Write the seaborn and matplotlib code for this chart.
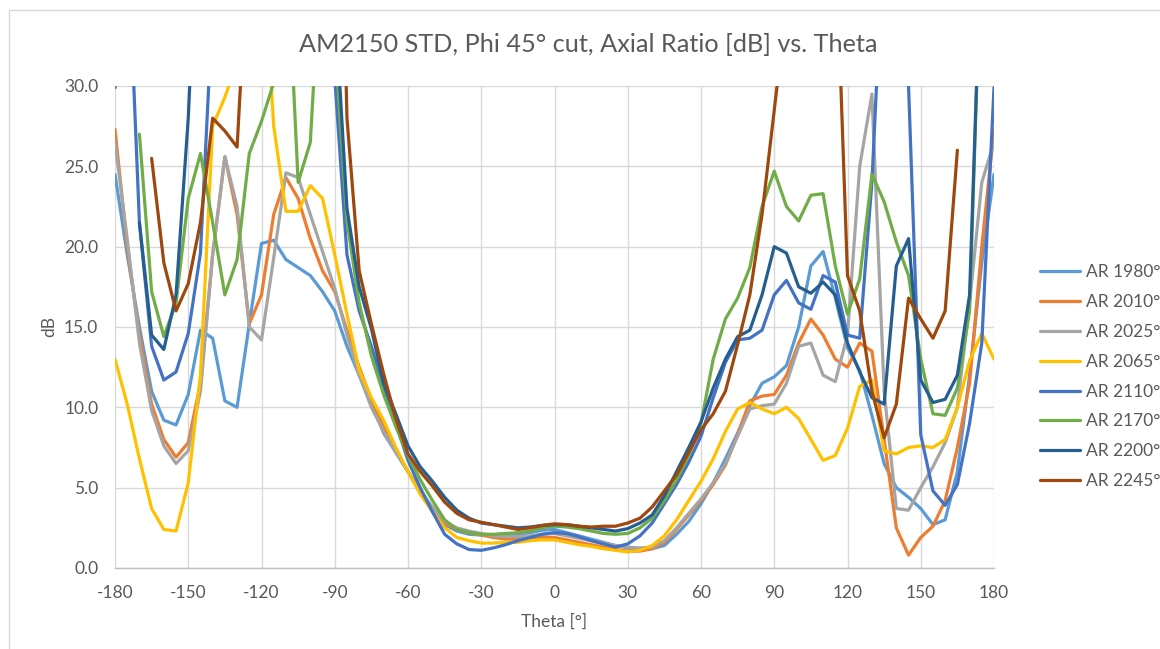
import numpy as np
import pandas as pd
import matplotlib
matplotlib.use("Agg")
import matplotlib.pyplot as plt
import seaborn as sns

nan = np.nan

# Theta samples (deg), 5 degree steps
theta = list(range(-180, 181, 5))

# Axial ratio [dB] per frequency (values > 30 run off the top)
ar_1980 = [24.5, 19.5, 15.0, 11.0, 9.2, 8.9, 10.8, 14.8, 14.3, 10.4, 10.0, 15.2, 20.2,
           20.4, 19.2, 18.7, 18.2, 17.2, 16.0, 13.8, 12.0, 10.3, 8.4, 7.2, 6.0, 4.8,
           3.6, 2.7, 2.3, 2.1, 2.05, 2.0, 2.0, 2.1, 2.2, 2.35, 2.4, 2.2, 2.0, 1.8, 1.6,
           1.4, 1.25, 1.15, 1.2, 1.4, 2.1, 2.9, 4.0, 5.3, 6.8, 8.4, 10.1, 11.5, 11.9,
           12.6, 15.0, 18.8, 19.7, 16.8, 13.7, 12.3, 9.5, 6.5, 5.0, 4.4, 3.7, 2.7, 3.0,
           6.0, 12.0, 19.0, 24.5]
ar_2010 = [27.3, 20.0, 14.5, 10.2, 8.0, 6.9, 7.8, 11.5, 19.5, 25.6, 22.0, 15.2, 17.0,
           22.0, 24.3, 23.0, 20.5, 18.5, 17.2, 14.8, 12.5, 10.5, 8.8, 7.3, 6.0, 4.7,
           3.7, 2.8, 2.4, 2.2, 2.05, 1.9, 1.8, 1.8, 1.85, 1.9, 1.9, 1.75, 1.6, 1.45,
           1.3, 1.15, 1.05, 1.05, 1.2, 1.6, 2.4, 3.3, 4.2, 5.2, 6.4, 8.3, 10.4, 10.7,
           10.8, 12.0, 14.0, 15.5, 14.5, 13.0, 12.5, 14.0, 13.5, 8.0, 2.5, 0.8, 1.9,
           2.6, 4.2, 7.5, 11.5, 20.0, 27.3]
ar_2025 = [26.5, 20.5, 14.0, 9.8, 7.6, 6.5, 7.3, 11.0, 19.5, 25.6, 22.5, 15.0, 14.2,
           19.3, 24.6, 24.3, 22.0, 19.7, 17.4, 14.5, 12.0, 10.0, 8.5, 7.2, 6.0, 4.8,
           3.8, 2.9, 2.5, 2.3, 2.15, 2.0, 1.95, 1.95, 2.0, 2.1, 2.15, 2.0, 1.85, 1.7,
           1.55, 1.4, 1.3, 1.25, 1.3, 1.7, 2.5, 3.4, 4.3, 5.3, 6.5, 8.2, 9.9, 10.1,
           10.2, 11.5, 13.8, 14.0, 12.0, 11.6, 14.5, 25.0, 29.5, 11.0, 3.7, 3.6, 5.0,
           6.3, 7.8, 10.0, 16.5, 24.0, 26.5]
ar_2065 = [13.0, 10.2, 6.8, 3.7, 2.4, 2.3, 5.3, 12.0, 27.5, 29.3, 31.5, 40.0, 40.0,
           27.5, 22.2, 22.2, 23.8, 23.0, 19.5, 15.8, 12.3, 10.6, 9.2, 7.5, 6.0, 4.6,
           3.5, 2.5, 1.9, 1.7, 1.55, 1.55, 1.6, 1.6, 1.7, 1.75, 1.75, 1.6, 1.45, 1.35,
           1.2, 1.1, 1.0, 1.1, 1.4, 2.0, 3.0, 4.2, 5.4, 6.8, 8.5, 9.9, 10.3, 9.9, 9.6,
           10.0, 9.3, 8.0, 6.7, 7.0, 8.7, 11.3, 11.7, 7.3, 7.1, 7.5, 7.6, 7.5, 8.0,
           10.0, 12.9, 14.6, 13.0]
ar_2110 = [29.9, 40.0, 21.5, 13.8, 11.7, 12.2, 14.6, 19.6, 35.0, 50.0, 50.0, 50.0,
           50.0, 50.0, 50.0, 50.0, 50.0, 50.0, 30.5, 19.5, 16.0, 13.8, 11.3, 9.0, 6.7,
           5.0, 3.5, 2.1, 1.5, 1.15, 1.1, 1.25, 1.45, 1.7, 1.9, 2.1, 2.2, 2.15, 1.95,
           1.7, 1.5, 1.3, 1.5, 2.0, 2.8, 4.0, 5.2, 6.6, 8.2, 10.6, 12.8, 14.2, 14.3,
           14.8, 17.0, 17.9, 16.5, 16.1, 18.2, 17.8, 14.5, 14.3, 24.0, 40.0, 45.0,
           30.0, 8.3, 4.8, 3.9, 5.2, 9.0, 14.0, 29.9]
ar_2170 = [nan, nan, 27.0, 17.2, 14.4, 16.5, 23.0, 25.8, 21.5, 17.0, 19.2, 25.8, 27.8,
           30.2, 40.0, 24.0, 26.5, 40.0, 33.0, 21.6, 16.5, 13.2, 10.8, 8.8, 7.0, 5.5,
           4.2, 3.0, 2.4, 2.2, 2.1, 2.1, 2.15, 2.2, 2.3, 2.5, 2.6, 2.55, 2.45, 2.3,
           2.15, 2.1, 2.15, 2.5, 3.1, 4.2, 5.5, 7.0, 9.0, 13.0, 15.5, 16.8, 18.7, 22.5,
           24.7, 22.5, 21.6, 23.2, 23.3, 18.8, 15.8, 18.0, 24.5, 22.8, 20.3, 18.2,
           13.0, 9.6, 9.5, 11.2, 16.0, 40.0, nan]
ar_2200 = [nan, nan, 21.5, 14.5, 13.6, 17.0, 28.0, 45.0, 45.0, 45.0, 45.0, 45.0, 45.0,
           45.0, 45.0, 45.0, 45.0, 45.0, 35.5, 22.4, 17.5, 14.9, 11.5, 9.6, 7.6, 6.3,
           5.4, 4.4, 3.6, 3.1, 2.8, 2.7, 2.6, 2.5, 2.55, 2.65, 2.7, 2.7, 2.6, 2.5, 2.4,
           2.3, 2.45, 2.8, 3.3, 4.5, 6.0, 7.5, 9.1, 11.2, 13.0, 14.4, 14.8, 17.0, 20.0,
           19.6, 17.5, 17.1, 17.8, 17.0, 14.0, 12.2, 10.6, 10.2, 18.8, 20.5, 11.7, 10.3,
           10.5, 12.0, 17.0, 40.0, nan]
ar_2245 = [nan, nan, nan, 25.5, 19.0, 16.0, 17.7, 21.5, 28.0, 27.2, 26.2, 40.0, 50.0,
           50.0, 50.0, 50.0, 50.0, 50.0, 60.0, 28.0, 18.5, 15.2, 12.1, 9.3, 7.1, 6.0,
           5.1, 4.1, 3.4, 3.0, 2.85, 2.7, 2.55, 2.4, 2.5, 2.65, 2.75, 2.7, 2.6, 2.55,
           2.6, 2.6, 2.8, 3.1, 3.8, 4.8, 5.8, 7.2, 8.6, 9.6, 11.0, 13.9, 17.0, 22.0,
           28.5, 35.0, 50.0, 50.0, 50.0, 40.0, 18.2, 16.0, 11.0, 8.1, 10.2, 16.8, 15.5,
           14.3, 16.0, 26.0, nan, nan, nan]

labels = ["AR 1980°", "AR 2010°", "AR 2025°", "AR 2065°",
          "AR 2110°", "AR 2170°", "AR 2200°", "AR 2245°"]
colors = ["#5B9BD5", "#ED7D31", "#A5A5A5", "#FFC000",
          "#4472C4", "#70AD47", "#255E91", "#9E480E"]
series = [ar_1980, ar_2010, ar_2025, ar_2065, ar_2110, ar_2170, ar_2200, ar_2245]

frames = []
for lab, vals in zip(labels, series):
    frames.append(pd.DataFrame({"Theta": theta, "AR": vals, "Series": lab}))
df = pd.concat(frames, ignore_index=True).dropna()

sns.set_style("white")
plt.rcParams["font.family"] = ["Lato", "DejaVu Sans"]
plt.rcParams["axes.unicode_minus"] = False
txt = "#595959"

fig = plt.figure(figsize=(11.6, 6.49), dpi=100)
ax = fig.add_axes([115 / 1160, 1 - 568 / 649, (994 - 115) / 1160, (568 - 86) / 649])

sns.lineplot(data=df, x="Theta", y="AR", hue="Series", hue_order=labels,
             palette=colors, estimator=None, sort=True, linewidth=2.3, ax=ax)

ax.set_xlim(-180, 180)
ax.set_ylim(0, 30)
ax.set_xticks(range(-180, 181, 30))
ax.set_yticks(np.arange(0, 30.1, 5))
ax.set_yticklabels([f"{v:.1f}" for v in np.arange(0, 30.1, 5)])
ax.grid(True, color="#D9D9D9", linewidth=1.0)
ax.set_axisbelow(True)
for s in ["top", "right", "left"]:
    ax.spines[s].set_visible(False)
ax.spines["bottom"].set_color("#BFBFBF")
ax.spines["bottom"].set_linewidth(1.0)
ax.tick_params(axis="both", length=0, labelsize=12.5, colors=txt)
ax.tick_params(axis="x", pad=12)
ax.tick_params(axis="y", pad=12)
ax.set_xlabel("Theta [°]", fontsize=12.5, color=txt, labelpad=9)
ax.set_ylabel("dB", fontsize=12.5, color=txt, labelpad=5)
fig.suptitle("AM2150 STD, Phi 45° cut, Axial Ratio [dB] vs. Theta",
             fontsize=18.2, color=txt, x=0.507, y=1 - 44 / 649, va="center")

handles, _ = ax.get_legend_handles_labels()
ax.legend(handles=handles, labels=labels, loc="center left",
          bbox_to_anchor=(1.035, 0.397), frameon=False, fontsize=12.5,
          labelcolor=txt, handlelength=2.3, labelspacing=0.8, handletextpad=0.3)
for ln in ax.get_legend().get_lines():
    ln.set_linewidth(2.3)

# chart area border
fig.add_artist(plt.Line2D([9 / 1160, 9 / 1160], [0, 1 - 10 / 649], color="#D9D9D9", lw=1.0))
fig.add_artist(plt.Line2D([9 / 1160, 1], [1 - 10 / 649, 1 - 10 / 649], color="#D9D9D9", lw=1.0))

fig.savefig("out.png", dpi=100)
